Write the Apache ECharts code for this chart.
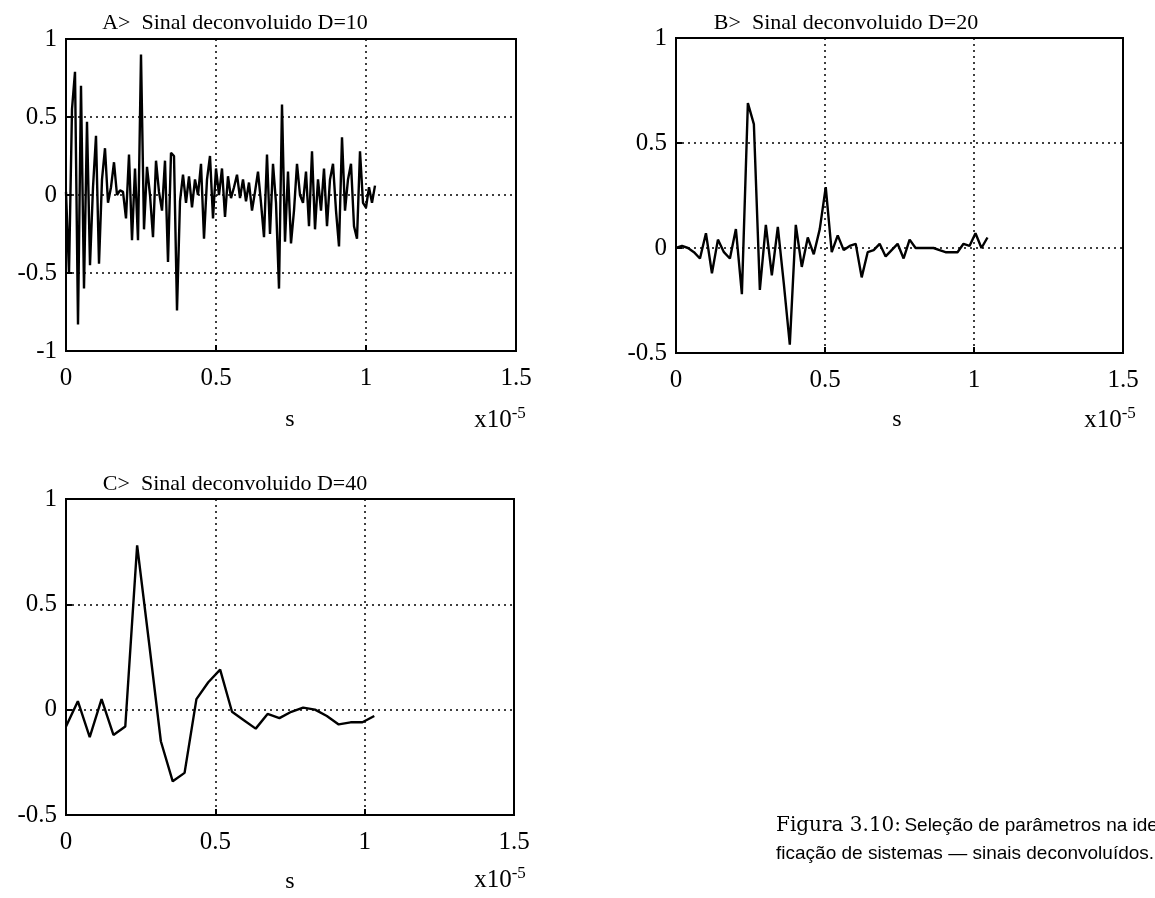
<!DOCTYPE html>
<html>
<head>
<meta charset="utf-8">
<script src="https://cdn.jsdelivr.net/npm/echarts@6/dist/echarts.min.js"></script>
<style>
html,body{margin:0;padding:0;background:#fff;}
#c{width:1155px;height:898px;}
</style>
</head>
<body>
<div id="c"></div>
<script>
// ---- data ----
const titles = ['A>  Sinal deconvoluido D=10', 'B>  Sinal deconvoluido D=20', 'C>  Sinal deconvoluido D=40'];
const xTicks = [0, 0.5, 1, 1.5];
const yTicksA = [-1, -0.5, 0, 0.5, 1];
const yTicksBC = [-0.5, 0, 0.5, 1];
const stepA = 0.01, stepB = 0.0201, stepC = 0.0397; // sample spacing (x10^-5 s)

const sigA = [0.02, -0.50, 0.55, 0.79, -0.83, 0.70, -0.60, 0.47, -0.45, 0.05,
  0.38, -0.44, 0.10, 0.30, -0.05, 0.05, 0.21, 0.00, 0.03, 0.02,
  -0.15, 0.26, -0.29, 0.17, -0.29, 0.90, -0.22, 0.18, 0.00, -0.27,
  0.22, 0.02, -0.10, 0.22, -0.43, 0.27, 0.25, -0.74, -0.04, 0.13,
  -0.05, 0.12, -0.08, 0.10, 0.00, 0.20, -0.28, 0.10, 0.25, -0.15,
  0.17, 0.00, 0.17, -0.14, 0.12, -0.02, 0.05, 0.13, -0.02, 0.10,
  -0.04, 0.08, -0.10, 0.02, 0.15, -0.05, -0.27, 0.26, -0.25, 0.20,
  -0.05, -0.60, 0.58, -0.30, 0.15, -0.31, -0.10, 0.20, 0.00, -0.05,
  0.15, -0.20, 0.28, -0.22, 0.10, -0.10, 0.17, -0.20, 0.10, 0.20,
  -0.10, -0.33, 0.37, -0.10, 0.10, 0.20, -0.20, -0.28, 0.28, -0.05,
  -0.08, 0.05, -0.05, 0.06];

const sigB = [0.00, 0.01, 0.00, -0.02, -0.05, 0.07, -0.12, 0.04, -0.02, -0.05,
  0.09, -0.22, 0.69, 0.59, -0.20, 0.11, -0.13, 0.10, -0.17, -0.46,
  0.11, -0.09, 0.05, -0.03, 0.09, 0.29, -0.02, 0.06, -0.01, 0.01,
  0.02, -0.14, -0.02, -0.01, 0.02, -0.04, -0.01, 0.02, -0.05, 0.04,
  0.00, 0.00, 0.00, 0.00, -0.01, -0.02, -0.02, -0.02, 0.02, 0.01,
  0.07, 0.00, 0.05];

const sigC = [-0.08, 0.04, -0.13, 0.05, -0.12, -0.08, 0.78, 0.32, -0.15, -0.34,
  -0.30, 0.05, 0.13, 0.19, -0.01, -0.05, -0.09, -0.02, -0.04, -0.01,
  0.01, 0.00, -0.03, -0.07, -0.06, -0.06, -0.03];

// ---- chart ----
const toPts = (arr, st) => arr.map((v, i) => [i * st, v]);
const serif = '"Liberation Serif", "DejaVu Serif", serif';

const grids = [
  {left: 66, top: 39, width: 450, height: 312},
  {left: 676, top: 38, width: 447, height: 315},
  {left: 66, top: 499, width: 448, height: 316}
];
const yRanges = [[-1, 1], [-0.5, 1], [-0.5, 1]];

function xAxis(idx) {
  return {
    gridIndex: idx, type: 'value', min: xTicks[0], max: xTicks[xTicks.length - 1], interval: 0.5,
    axisLine: {show: true, onZero: false, lineStyle: {color: '#000', width: 2}},
    axisTick: {show: true, inside: true, length: 6, lineStyle: {color: '#000', width: 2}},
    axisLabel: {color: '#000', fontFamily: serif, fontSize: 25, margin: 15,
      formatter: v => String(v)},
    splitLine: {show: true, lineStyle: {color: '#000', type: [2, 4], width: 1.5}}
  };
}
function yAxis(idx) {
  return {
    gridIndex: idx, type: 'value', min: yRanges[idx][0], max: yRanges[idx][1], interval: 0.5,
    axisLine: {show: true, onZero: false, lineStyle: {color: '#000', width: 2}},
    axisTick: {show: true, inside: true, length: 6, lineStyle: {color: '#000', width: 2}},
    axisLabel: {color: '#000', fontFamily: serif, fontSize: 25, margin: 9,
      formatter: v => String(v)},
    splitLine: {show: true, lineStyle: {color: '#000', type: [2, 4], width: 1.5}}
  };
}

const titleCenters = [[230, 7], [841, 7], [230, 468]];
const sLabels = [[290, 420], [897, 420], [290, 882]];
const expLabels = [[500, 420], [1110, 420], [500, 880]];

const graphics = [];
sLabels.forEach(p => graphics.push({type: 'text', x: p[0], y: p[1],
  style: {text: 's', font: '24px ' + serif, fill: '#000', textAlign: 'center', textVerticalAlign: 'middle'}}));
expLabels.forEach(p => graphics.push({type: 'text', x: p[0], y: p[1],
  style: {text: '{a|x10}{b|-5}', textAlign: 'center', textVerticalAlign: 'middle',
    rich: {a: {fontFamily: serif, fontSize: 25, color: '#000'},
           b: {fontFamily: serif, fontSize: 17, color: '#000', verticalAlign: 'top', padding: [0, 0, 12, 0]}}}}));
graphics.push({type: 'text', x: 776, y: 826, style: {
  text: '{a|Figura 3.10:} {b|Seleção de parâmetros na ide}', textVerticalAlign: 'middle',
  rich: {a: {fontFamily: '"DejaVu Serif", serif', fontSize: 20, color: '#000'},
         b: {fontFamily: '"Liberation Sans", sans-serif', fontSize: 19, color: '#000'}}}});
graphics.push({type: 'text', x: 776, y: 854, style: {
  text: 'ficação de sistemas — sinais deconvoluídos.', textVerticalAlign: 'middle',
  font: '19px "Liberation Sans", sans-serif', fill: '#000'}});

const option = {
  backgroundColor: '#fff',
  animation: false,
  title: titles.map((t, i) => ({
    text: t, left: titleCenters[i][0], top: titleCenters[i][1], textAlign: 'center',
    textStyle: {fontFamily: serif, fontSize: 22, fontWeight: 'normal', color: '#000'}
  })),
  grid: grids.map(g => Object.assign({show: true, borderColor: '#000', borderWidth: 2, backgroundColor: 'transparent'}, g)),
  xAxis: [0, 1, 2].map(xAxis),
  yAxis: [0, 1, 2].map(yAxis),
  series: [
    {type: 'line', xAxisIndex: 0, yAxisIndex: 0, data: toPts(sigA, stepA), showSymbol: false,
      lineStyle: {color: '#000', width: 2.4}},
    {type: 'line', xAxisIndex: 1, yAxisIndex: 1, data: toPts(sigB, stepB), showSymbol: false,
      lineStyle: {color: '#000', width: 2.4}},
    {type: 'line', xAxisIndex: 2, yAxisIndex: 2, data: toPts(sigC, stepC), showSymbol: false,
      lineStyle: {color: '#000', width: 2.4}}
  ],
  graphic: graphics
};

const chart = echarts.init(document.getElementById('c'), null, {renderer: 'canvas'});
chart.setOption(option);
</script>
</body>
</html>
